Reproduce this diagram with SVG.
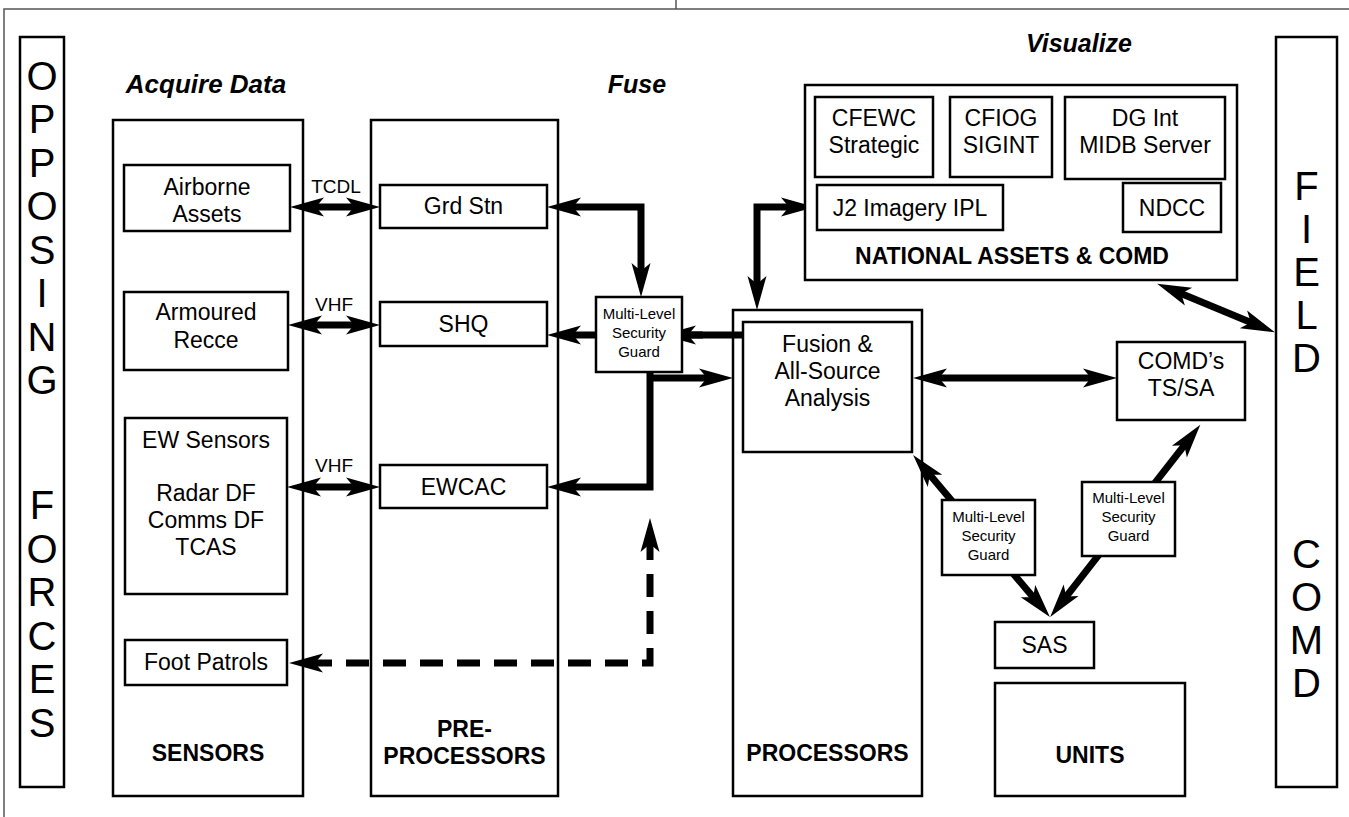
<svg xmlns="http://www.w3.org/2000/svg" width="1349" height="817" viewBox="0 0 1349 817">
  <style>
    text { font-family: "Liberation Sans", Arial, Helvetica, sans-serif; fill: #000; text-anchor: middle; }
    .box { fill: #fff; stroke: #000; stroke-width: 2.5; }
    .col { fill: none; stroke: #000; stroke-width: 2.5; }
    .frame { fill: none; stroke: #555; stroke-width: 1.5; }
    .t { font-size: 23px; }
    .lbl { font-size: 23px; font-weight: bold; }
    .hdr { font-size: 25px; font-weight: bold; font-style: italic; }
    .link { font-size: 19px; }
    .g { font-size: 15px; }
    .big { font-size: 40px; }
    .wire { fill: none; stroke: #000; stroke-width: 7; stroke-linejoin: miter; }
    .dash { stroke-dasharray: 23 14; }
  </style>
  <defs>
    <marker id="head" markerUnits="userSpaceOnUse" viewBox="-20 -12 44 24" refX="0" refY="0" markerWidth="44" markerHeight="24" orient="auto-start-reverse" overflow="visible">
      <path d="M20,0 L-14,-9.5 L-6,0 L-14,9.5 Z" fill="#000"/>
    </marker>
  </defs>

  <!-- page frame -->
  <g id="frame">
    <path class="frame" d="M4,817 V9 H1349"/>
    <path class="frame" d="M676,0 V9"/>
  </g>

  <!-- phase headings -->
  <g id="headings">
    <text class="hdr" x="206" y="93" style="font-size:26px">Acquire Data</text>
    <text class="hdr" x="637" y="93">Fuse</text>
    <text class="hdr" x="1079" y="52">Visualize</text>
  </g>

  <!-- side bars -->
  <g id="opposing-forces">
    <rect class="box" x="20" y="37" width="44" height="750"/>
    <text class="big" x="42" y="89.5">O</text>
    <text class="big" x="42" y="133">P</text>
    <text class="big" x="42" y="176.5">P</text>
    <text class="big" x="42" y="220">O</text>
    <text class="big" x="42" y="263.5">S</text>
    <text class="big" x="42" y="307">I</text>
    <text class="big" x="42" y="350.5">N</text>
    <text class="big" x="42" y="394">G</text>
    <text class="big" x="42" y="519">F</text>
    <text class="big" x="42" y="562.5">O</text>
    <text class="big" x="42" y="606">R</text>
    <text class="big" x="42" y="649.5">C</text>
    <text class="big" x="42" y="693">E</text>
    <text class="big" x="42" y="736.5">S</text>
  </g>
  <g id="field-comd">
    <rect class="box" x="1276" y="37" width="61" height="750"/>
    <text class="big" x="1306.5" y="199.5">F</text>
    <text class="big" x="1306.5" y="242.5">I</text>
    <text class="big" x="1306.5" y="285.5">E</text>
    <text class="big" x="1306.5" y="328.5">L</text>
    <text class="big" x="1306.5" y="371.5">D</text>
    <text class="big" x="1306.5" y="567.5">C</text>
    <text class="big" x="1306.5" y="610.5">O</text>
    <text class="big" x="1306.5" y="653.5">M</text>
    <text class="big" x="1306.5" y="696.5">D</text>
  </g>

  <!-- columns -->
  <g id="sensors">
    <rect class="col" x="113" y="120" width="190" height="676"/>
    <text class="lbl" x="208" y="761">SENSORS</text>
  </g>
  <g id="pre-processors">
    <rect class="col" x="371" y="120" width="187" height="676"/>
    <text class="lbl" x="464.5" y="737">PRE-</text>
    <text class="lbl" x="464.5" y="764">PROCESSORS</text>
  </g>
  <g id="processors">
    <rect class="col" x="733" y="310" width="189" height="486"/>
    <text class="lbl" x="827.5" y="761">PROCESSORS</text>
  </g>
  <g id="units">
    <rect class="box" x="995" y="683" width="190" height="113"/>
    <text class="lbl" x="1090" y="763">UNITS</text>
  </g>

  <!-- sensors -->
  <g id="airborne-assets">
    <rect class="box" x="124" y="165" width="166" height="66"/>
    <text class="t" x="207" y="195">Airborne</text>
    <text class="t" x="207" y="222">Assets</text>
  </g>
  <g id="armoured-recce">
    <rect class="box" x="124" y="292" width="164" height="78"/>
    <text class="t" x="206" y="320">Armoured</text>
    <text class="t" x="206" y="348">Recce</text>
  </g>
  <g id="ew-sensors">
    <rect class="box" x="125" y="418" width="162" height="176"/>
    <text class="t" x="206" y="448">EW Sensors</text>
    <text class="t" x="206" y="501">Radar DF</text>
    <text class="t" x="206" y="528">Comms DF</text>
    <text class="t" x="206" y="555">TCAS</text>
  </g>
  <g id="foot-patrols">
    <rect class="box" x="125" y="640" width="162" height="45"/>
    <text class="t" x="206" y="670">Foot Patrols</text>
  </g>

  <!-- connectors -->
  <g id="connectors">
    <path class="wire" d="M310,207 H360" marker-start="url(#head)" marker-end="url(#head)"/>
    <path class="wire" d="M308,325 H360" marker-start="url(#head)" marker-end="url(#head)"/>
    <path class="wire" d="M307,487 H360" marker-start="url(#head)" marker-end="url(#head)"/>
    <!-- Grd Stn to guard -->
    <path class="wire" d="M567,207 H641 V277" marker-start="url(#head)" marker-end="url(#head)"/>
    <!-- Fusion through guard to SHQ -->
    <path class="wire" d="M743,335 H567" marker-end="url(#head)"/>
    <path class="wire" d="M682,335 H703" marker-start="url(#head)"/>
    <!-- guard to EWCAC and to processors -->
    <path class="wire" d="M650,372 V487 H567" marker-end="url(#head)"/>
    <path class="wire" d="M650,378 H713" marker-end="url(#head)"/>
    <!-- Foot Patrols feedback -->
    <path class="wire dash" d="M309,663 H650 V538" marker-start="url(#head)" marker-end="url(#head)"/>
    <!-- processors to J2 imagery -->
    <path class="wire" d="M795,207 H757 V290" marker-start="url(#head)" marker-end="url(#head)"/>
    <!-- fusion to COMD's TS/SA -->
    <path class="wire" d="M933,378 H1097" marker-start="url(#head)" marker-end="url(#head)"/>
    <!-- national assets to field COMD -->
    <path class="wire" d="M1175.6,291.3 L1256.4,324.7" marker-start="url(#head)" marker-end="url(#head)"/>
    <!-- fusion to SAS through guard -->
    <path class="wire" d="M926,470.2 L1037,601.8" marker-start="url(#head)" marker-end="url(#head)"/>
    <!-- SAS to COMD's TS/SA through guard -->
    <path class="wire" d="M1062.5,601.3 L1188,440.6" marker-start="url(#head)" marker-end="url(#head)"/>
  </g>

  <!-- pre-processors -->
  <g id="grd-stn">
    <rect class="box" x="380" y="185" width="167" height="43"/>
    <text class="t" x="463.5" y="214">Grd Stn</text>
  </g>
  <g id="shq">
    <rect class="box" x="380" y="302" width="167" height="44"/>
    <text class="t" x="463.5" y="332">SHQ</text>
  </g>
  <g id="ewcac">
    <rect class="box" x="380" y="465" width="167" height="43"/>
    <text class="t" x="463.5" y="495">EWCAC</text>
  </g>

  <!-- link labels -->
  <g id="link-labels">
    <text class="link" x="336" y="193">TCDL</text>
    <text class="link" x="334" y="311">VHF</text>
    <text class="link" x="334" y="472">VHF</text>
  </g>

  <!-- guards -->
  <g id="guard-centre">
    <rect class="box" x="596" y="297" width="86" height="75"/>
    <text class="g" x="639" y="319">Multi-Level</text>
    <text class="g" x="639" y="338">Security</text>
    <text class="g" x="639" y="357">Guard</text>
  </g>
  <g id="guard-sas-left">
    <rect class="box" x="942" y="500" width="93" height="75"/>
    <text class="g" x="988.5" y="522">Multi-Level</text>
    <text class="g" x="988.5" y="541">Security</text>
    <text class="g" x="988.5" y="560">Guard</text>
  </g>
  <g id="guard-sas-right">
    <rect class="box" x="1082" y="482" width="93" height="74"/>
    <text class="g" x="1128.5" y="503">Multi-Level</text>
    <text class="g" x="1128.5" y="522">Security</text>
    <text class="g" x="1128.5" y="541">Guard</text>
  </g>

  <!-- processors -->
  <g id="fusion">
    <rect class="box" x="743" y="322" width="169" height="130"/>
    <text class="t" x="827.5" y="352">Fusion &amp;</text>
    <text class="t" x="827.5" y="379">All-Source</text>
    <text class="t" x="827.5" y="406">Analysis</text>
  </g>
  <g id="comds-ts-sa">
    <rect class="box" x="1117" y="342" width="128" height="78"/>
    <text class="t" x="1181" y="369">COMD’s</text>
    <text class="t" x="1181" y="396">TS/SA</text>
  </g>
  <g id="sas">
    <rect class="box" x="995" y="622" width="99" height="46"/>
    <text class="t" x="1044.5" y="653">SAS</text>
  </g>

  <!-- national assets -->
  <g id="national-assets">
    <rect class="box" x="805" y="85" width="432" height="195"/>
    <text class="lbl" x="1012" y="264">NATIONAL ASSETS &amp; COMD</text>
  </g>
  <g id="cfewc">
    <rect class="box" x="815" y="97" width="118" height="80"/>
    <text class="t" x="874" y="126">CFEWC</text>
    <text class="t" x="874" y="153">Strategic</text>
  </g>
  <g id="cfiog">
    <rect class="box" x="950" y="97" width="102" height="80"/>
    <text class="t" x="1001" y="126">CFIOG</text>
    <text class="t" x="1001" y="153">SIGINT</text>
  </g>
  <g id="dg-int">
    <rect class="box" x="1065" y="97" width="160" height="82"/>
    <text class="t" x="1145" y="126">DG Int</text>
    <text class="t" x="1145" y="153">MIDB Server</text>
  </g>
  <g id="j2-imagery">
    <rect class="box" x="817" y="185" width="186" height="45"/>
    <text class="t" x="910" y="216">J2 Imagery IPL</text>
  </g>
  <g id="ndcc">
    <rect class="box" x="1123" y="183" width="98" height="49"/>
    <text class="t" x="1172" y="216">NDCC</text>
  </g>
</svg>
